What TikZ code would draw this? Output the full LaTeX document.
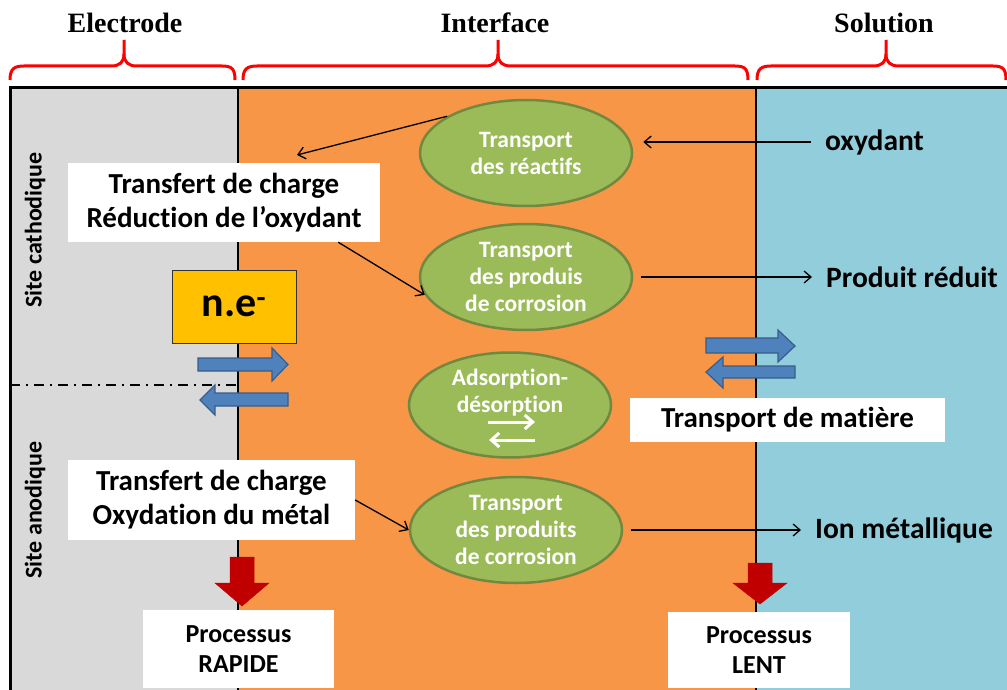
\documentclass[tikz,border=0pt]{standalone}
\usepackage{fontspec}
\setmainfont{Carlito}[Ligatures={NoCommon,NoContextual}]
\newfontfamily\titlefont{Liberation Serif}
\usetikzlibrary{shapes.geometric,arrows.meta,calc}
\definecolor{elgrey}{HTML}{D9D9D9}
\definecolor{iforange}{HTML}{F79646}
\definecolor{solblue}{HTML}{92CDDC}
\definecolor{egreen}{HTML}{9BBB59}
\definecolor{egreenD}{HTML}{71893F}
\definecolor{abluef}{HTML}{4F81BD}
\definecolor{abluel}{HTML}{385D8A}
\definecolor{ared}{HTML}{C00000}
\definecolor{neyellow}{HTML}{FFC000}
\begin{document}
\begin{tikzpicture}[x=1pt,y=-1pt,
  wbox/.style={fill=white, inner sep=0pt, align=center, font=\bfseries\fontsize{29}{34}\selectfont},
  pbox/.style={fill=white, inner sep=0pt, align=center, font=\bfseries\fontsize{26}{30}\selectfont},
  ell/.style={ellipse, fill=egreen, draw=egreenD, line width=2.5pt, inner sep=0pt, align=center, text=white,
    minimum width=212pt, minimum height=106pt, font=\bfseries\fontsize{23.5}{27}\selectfont},
  lbl/.style={inner xsep=14pt, inner ysep=0pt, font=\bfseries\fontsize{29.5}{34}\selectfont},
  conn/.style={line width=1.3pt, -{Straight Barb[length=7pt,width=12pt]}},
  wconn/.style={white, line width=3pt, -{Straight Barb[length=8pt,width=14pt]}},
  brc/.style={draw=red, line width=3pt},
  ttl/.style={inner sep=0pt, font=\titlefont\bfseries\fontsize{28}{32}\selectfont},
  site/.style={rotate=90, inner sep=0pt, font=\bfseries\fontsize{24}{28}\selectfont},
  barrow/.style={fill=abluef, draw=abluel, line width=1.2pt, line join=miter},
  rarrow/.style={fill=ared, draw=ared, line width=0.5pt},
  divider/.style={line width=2.5pt, black}
]
\useasboundingbox (0,0) rectangle (1007,690);
% background regions
\fill[elgrey] (10,88) rectangle (238,690);
\fill[iforange] (238,88) rectangle (756,690);
\fill[solblue] (756,88) rectangle (1007,690);
\draw[line width=3pt] (8.5,88) -- (1007,88);
\draw[line width=3pt] (10,88) -- (10,690);
\draw[divider] (238,88) -- (238,690);
\draw[divider] (756,88) -- (756,690);
% braces
\draw[brc] (10,80) .. controls (10,69) and (14,66) .. (24,66) -- (111,66) .. controls (120,66) and (124,62) .. (124,54) -- (124,40);
\draw[brc] (124,54) .. controls (124,62) and (128,66) .. (137,66) -- (222,66) .. controls (232,66) and (235,69) .. (235,80);
\draw[brc] (243,80) .. controls (243,69) and (247,66) .. (257,66) -- (485,66) .. controls (494,66) and (498,62) .. (498,54) -- (498,40);
\draw[brc] (498,54) .. controls (498,62) and (502,66) .. (511,66) -- (735,66) .. controls (745,66) and (748,69) .. (748,80);
\draw[brc] (757,80) .. controls (757,69) and (761,66) .. (771,66) -- (873,66) .. controls (882,66) and (886,62) .. (886,54) -- (886,40);
\draw[brc] (886,54) .. controls (886,62) and (890,66) .. (899,66) -- (993,66) .. controls (1003,66) and (1006,69) .. (1006,80);
% titles
\node[ttl] (tel) at (125,23) {Electrode};
\node[ttl] (tif) at (495,23) {Interface};
\node[ttl] (tso) at (884,23) {Solution};
% dash-dot separation
\draw[line width=1.5pt, dash pattern=on 10pt off 6pt on 2pt off 6pt] (10,385) -- (236,385);
% site labels
\node[site] (scat) at (35,230) {Site cathodique};
\node[site] (sano) at (35,510) {Site anodique};
% white boxes
\node[wbox, minimum width=312pt, minimum height=79pt] (box1) at (224,202.5) {Transfert de charge\\Réduction de l’oxydant};
\node[wbox, minimum width=287pt, minimum height=80pt] (box2) at (211.5,500) {Transfert de charge\\Oxydation du métal};
\node[wbox, minimum width=315pt, minimum height=44pt] (tdm) at (787.5,420) {Transport de matière};
\node[pbox, minimum width=191pt, minimum height=78pt] (prap) at (238.5,649) {Processus\\RAPIDE};
\node[pbox, minimum width=182pt, minimum height=76pt] (plent) at (759,650) {Processus\\LENT};
% n.e- box
\node[fill=neyellow, draw=black!80, line width=1pt, minimum width=124pt, minimum height=73pt, inner sep=0pt,
  font=\bfseries\fontsize{42}{46}\selectfont] (ne) at (234,306.5) {n.e\textsuperscript{-}};
% blue double arrows (electrode side)
\draw[barrow] (198,358) -- (272,358) -- (272,348) -- (288,364.5) -- (272,381) -- (272,371) -- (198,371) -- cycle;
\draw[barrow] (288,393) -- (215,393) -- (215,385) -- (200,400) -- (215,415) -- (215,406) -- (288,406) -- cycle;
% blue double arrows (solution side)
\draw[barrow] (706,338) -- (778,338) -- (778,330) -- (795,346) -- (778,362) -- (778,353) -- (706,353) -- cycle;
\draw[barrow] (795,366) -- (723,366) -- (723,357) -- (706,372) -- (723,388) -- (723,378) -- (795,378) -- cycle;
% red arrows
\draw[rarrow] (230,557) -- (254,557) -- (254,583) -- (269,583) -- (242,606) -- (215,583) -- (230,583) -- cycle;
\draw[rarrow] (748,563) -- (772,563) -- (772,583) -- (787,583) -- (760,604) -- (733,583) -- (748,583) -- cycle;
% ellipses
\node[ell] (e1) at (526,153) {Transport\\des réactifs};
\node[ell] (e2) at (526,277) {Transport\\des produis\\de corrosion};
\node[ell, minimum width=202pt, minimum height=105pt] (e3) at (510,405) {};
\node[inner sep=0pt, text=white, align=center, font=\bfseries\fontsize{23.5}{27}\selectfont] (e3t) at (510,393) {Adsorption-\\désorption};
\coordinate (w1s) at (488,422);
\coordinate (w1e) at (535,422);
\coordinate (w2s) at (535,440);
\coordinate (w2e) at (489,440);
\draw[wconn] (w1s) -- (w1e);
\draw[wconn] (w2s) -- (w2e);
\node[ell] (e4) at (516,530) {Transport\\des produits\\de corrosion};
% solution labels
\node[lbl, anchor=west] (oxy) at (811,142) {oxydant};
\node[lbl, anchor=west] (prod) at (812,277) {Produit réduit};
\node[lbl, anchor=west] (ion) at (801,530) {Ion métallique};
% connectors
\coordinate (c1) at (297,155);
\coordinate (c3) at ($(box1.south east)+(-42,0)$);
\draw[conn] (e1.155) -- (c1);
\draw[conn] (oxy.west) -- ($(e1.east |- oxy.west)+(10,0)$);
\draw[conn] (c3) -- (e2.190);
\draw[conn] ($(e2.east)+(8,0)$) -- (prod.west);
\draw[conn] (box2.east) -- (e4.west);
\draw[conn] ($(e4.east)+(8,0)$) -- (ion.west);
\end{tikzpicture}
\end{document}
